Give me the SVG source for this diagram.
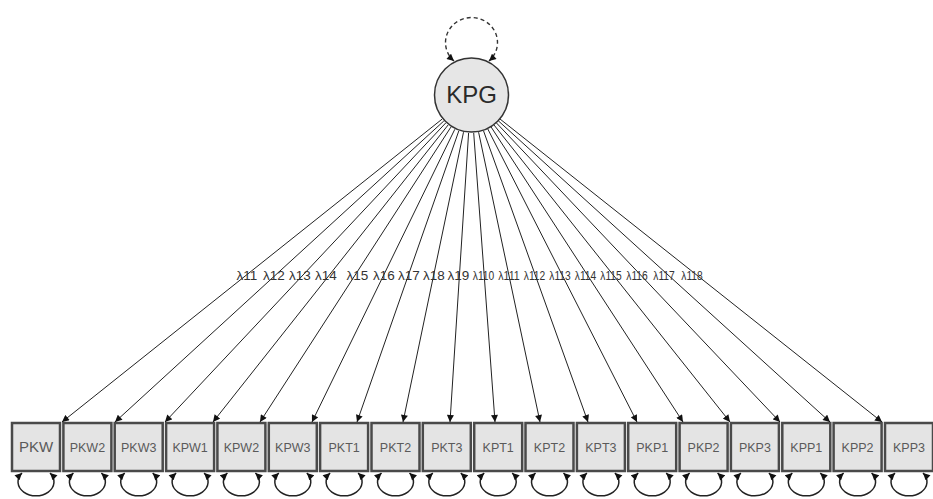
<svg xmlns="http://www.w3.org/2000/svg" width="933" height="499" viewBox="0 0 933 499">
  <style>
    .box { fill: #e4e4e4; stroke: #4a4a4a; stroke-width: 2.5; }
    .blabel { font-family: "Liberation Sans", Arial, sans-serif; font-size: 12.5px; fill: #5a5a5a; text-anchor: middle; }
    .latent { fill: #e6e6e6; stroke: #333; stroke-width: 1.5; }
    .llabel { font-family: "Liberation Sans", Arial, sans-serif; font-size: 24px; fill: #2a2a2a; text-anchor: middle; }
    .load { stroke: #222; stroke-width: 1; fill: none; marker-end: url(#arrow); }
    .loop { stroke: #222; stroke-width: 1.5; fill: none; marker-start: url(#arrow); marker-end: url(#arrow); }
    .varloop { stroke: #333; stroke-width: 1.4; fill: none; stroke-dasharray: 4 3; marker-start: url(#arrow); marker-end: url(#arrow); }
    .lam { font-family: "Liberation Sans", Arial, sans-serif; font-size: 13.5px; fill: #333; text-anchor: middle; }
  </style>
  <defs>
    <marker id="arrow" viewBox="0 0 10 10" refX="10" refY="5" markerWidth="8" markerHeight="7" markerUnits="userSpaceOnUse" orient="auto-start-reverse">
      <path d="M0,0 L10,5 L0,10 Z" fill="#111"/>
    </marker>
  </defs>

  <!-- latent factor -->
  <g id="KPG">
    <circle class="latent" cx="471.5" cy="95" r="37"/>
    <text class="llabel" x="471.5" y="103">KPG</text>
  </g>

  <!-- observed indicators -->
  <g id="PKW"><rect class="box" x="12" y="423" width="48" height="48"/><text class="blabel" x="36" y="452" style="font-size:15px">PKW</text></g>
  <g id="PKW2"><rect class="box" x="63.4" y="423" width="48" height="48"/><text class="blabel" x="87.4" y="452">PKW2</text></g>
  <g id="PKW3"><rect class="box" x="114.7" y="423" width="48" height="48"/><text class="blabel" x="138.7" y="452">PKW3</text></g>
  <g id="KPW1"><rect class="box" x="166.1" y="423" width="48" height="48"/><text class="blabel" x="190.1" y="452">KPW1</text></g>
  <g id="KPW2"><rect class="box" x="217.4" y="423" width="48" height="48"/><text class="blabel" x="241.4" y="452">KPW2</text></g>
  <g id="KPW3"><rect class="box" x="268.8" y="423" width="48" height="48"/><text class="blabel" x="292.8" y="452">KPW3</text></g>
  <g id="PKT1"><rect class="box" x="320.1" y="423" width="48" height="48"/><text class="blabel" x="344.1" y="452">PKT1</text></g>
  <g id="PKT2"><rect class="box" x="371.5" y="423" width="48" height="48"/><text class="blabel" x="395.5" y="452">PKT2</text></g>
  <g id="PKT3"><rect class="box" x="422.8" y="423" width="48" height="48"/><text class="blabel" x="446.8" y="452">PKT3</text></g>
  <g id="KPT1"><rect class="box" x="474.2" y="423" width="48" height="48"/><text class="blabel" x="498.2" y="452">KPT1</text></g>
  <g id="KPT2"><rect class="box" x="525.5" y="423" width="48" height="48"/><text class="blabel" x="549.5" y="452">KPT2</text></g>
  <g id="KPT3"><rect class="box" x="576.9" y="423" width="48" height="48"/><text class="blabel" x="600.9" y="452">KPT3</text></g>
  <g id="PKP1"><rect class="box" x="628.2" y="423" width="48" height="48"/><text class="blabel" x="652.2" y="452">PKP1</text></g>
  <g id="PKP2"><rect class="box" x="679.6" y="423" width="48" height="48"/><text class="blabel" x="703.6" y="452">PKP2</text></g>
  <g id="PKP3"><rect class="box" x="730.9" y="423" width="48" height="48"/><text class="blabel" x="754.9" y="452">PKP3</text></g>
  <g id="KPP1"><rect class="box" x="782.3" y="423" width="48" height="48"/><text class="blabel" x="806.3" y="452">KPP1</text></g>
  <g id="KPP2"><rect class="box" x="833.6" y="423" width="48" height="48"/><text class="blabel" x="857.6" y="452">KPP2</text></g>
  <g id="KPP3"><rect class="box" x="885" y="423" width="48" height="48"/><text class="blabel" x="909" y="452">KPP3</text></g>

  <!-- connectors: factor loadings, factor variance, error variances -->
  <g id="connectors">
    <path class="varloop" d="M454,61 A26,25 0 1 1 489,61"/>

    <line class="load" x1="442.1" y1="119.1" x2="62" y2="422"/>
    <line class="load" x1="443.8" y1="121.0" x2="115" y2="422"/>
    <line class="load" x1="445.7" y1="123.0" x2="165" y2="422"/>
    <line class="load" x1="448.1" y1="125.0" x2="213" y2="422"/>
    <line class="load" x1="450.9" y1="127.1" x2="260" y2="422"/>
    <line class="load" x1="454.8" y1="129.3" x2="312" y2="422"/>
    <line class="load" x1="458.8" y1="130.9" x2="357" y2="422"/>
    <line class="load" x1="463.5" y1="132.2" x2="403" y2="422"/>
    <line class="load" x1="468.6" y1="132.9" x2="450" y2="422"/>
    <line class="load" x1="473.7" y1="132.9" x2="495" y2="422"/>
    <line class="load" x1="478.6" y1="132.2" x2="540" y2="422"/>
    <line class="load" x1="483.5" y1="130.8" x2="588" y2="422"/>
    <line class="load" x1="487.8" y1="129.0" x2="637" y2="422"/>
    <line class="load" x1="491.1" y1="127.0" x2="683" y2="422"/>
    <line class="load" x1="494.0" y1="125.0" x2="730" y2="422"/>
    <line class="load" x1="496.4" y1="122.9" x2="780" y2="422"/>
    <line class="load" x1="498.4" y1="120.9" x2="830" y2="422"/>
    <line class="load" x1="500.0" y1="119.0" x2="882" y2="422"/>

    <path class="loop" d="M22,473 A18,14 0 1 0 50,473"/>
    <path class="loop" d="M73.4,473 A18,14 0 1 0 101.4,473"/>
    <path class="loop" d="M124.7,473 A18,14 0 1 0 152.7,473"/>
    <path class="loop" d="M176.1,473 A18,14 0 1 0 204.1,473"/>
    <path class="loop" d="M227.4,473 A18,14 0 1 0 255.4,473"/>
    <path class="loop" d="M278.8,473 A18,14 0 1 0 306.8,473"/>
    <path class="loop" d="M330.1,473 A18,14 0 1 0 358.1,473"/>
    <path class="loop" d="M381.5,473 A18,14 0 1 0 409.5,473"/>
    <path class="loop" d="M432.8,473 A18,14 0 1 0 460.8,473"/>
    <path class="loop" d="M484.2,473 A18,14 0 1 0 512.2,473"/>
    <path class="loop" d="M535.5,473 A18,14 0 1 0 563.5,473"/>
    <path class="loop" d="M586.9,473 A18,14 0 1 0 614.9,473"/>
    <path class="loop" d="M638.2,473 A18,14 0 1 0 666.2,473"/>
    <path class="loop" d="M689.6,473 A18,14 0 1 0 717.6,473"/>
    <path class="loop" d="M740.9,473 A18,14 0 1 0 768.9,473"/>
    <path class="loop" d="M792.3,473 A18,14 0 1 0 820.3,473"/>
    <path class="loop" d="M843.6,473 A18,14 0 1 0 871.6,473"/>
    <path class="loop" d="M895,473 A18,14 0 1 0 923,473"/>

    <!-- loading labels -->
    <text class="lam" x="247" y="280">λ11</text>
    <text class="lam" x="274" y="280">λ12</text>
    <text class="lam" x="300" y="280">λ13</text>
    <text class="lam" x="326" y="280">λ14</text>
    <text class="lam" x="357.5" y="280">λ15</text>
    <text class="lam" x="384" y="280">λ16</text>
    <text class="lam" x="409" y="280">λ17</text>
    <text class="lam" x="434" y="280">λ18</text>
    <text class="lam" x="458.5" y="280">λ19</text>
    <text class="lam" x="483.5" y="280" textLength="21.5" lengthAdjust="spacingAndGlyphs">λ110</text>
    <text class="lam" x="509" y="280" textLength="21.5" lengthAdjust="spacingAndGlyphs">λ111</text>
    <text class="lam" x="534.5" y="280" textLength="21.5" lengthAdjust="spacingAndGlyphs">λ112</text>
    <text class="lam" x="560" y="280" textLength="21.5" lengthAdjust="spacingAndGlyphs">λ113</text>
    <text class="lam" x="585.5" y="280" textLength="21.5" lengthAdjust="spacingAndGlyphs">λ114</text>
    <text class="lam" x="611" y="280" textLength="21.5" lengthAdjust="spacingAndGlyphs">λ115</text>
    <text class="lam" x="637" y="280" textLength="21.5" lengthAdjust="spacingAndGlyphs">λ116</text>
    <text class="lam" x="664" y="280" textLength="21.5" lengthAdjust="spacingAndGlyphs">λ117</text>
    <text class="lam" x="692" y="280" textLength="21.5" lengthAdjust="spacingAndGlyphs">λ118</text>
  </g>
</svg>
